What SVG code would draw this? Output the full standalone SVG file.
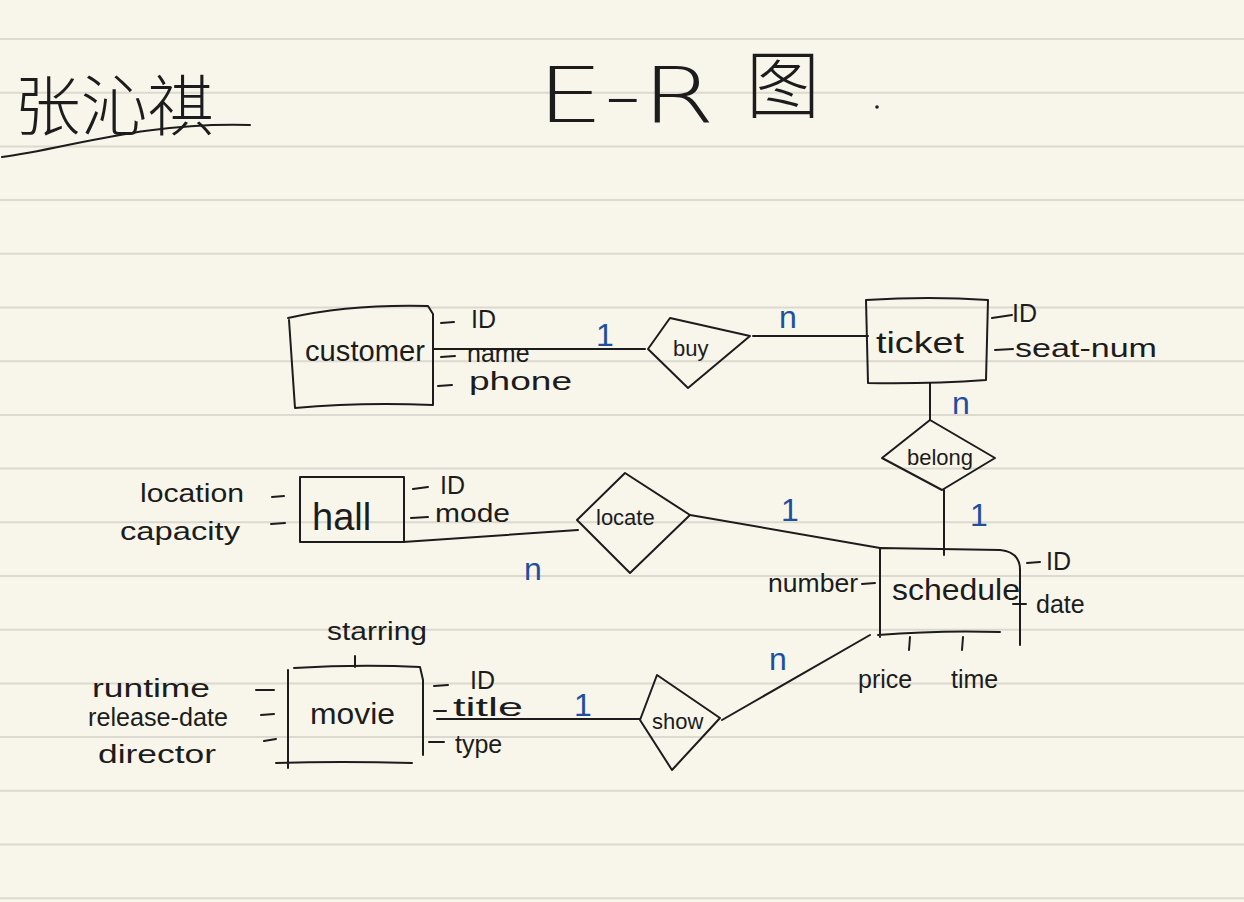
<svg xmlns="http://www.w3.org/2000/svg" width="1244" height="902" viewBox="0 0 1244 902">
<style>
.ln{stroke:#1c1c1c;stroke-width:2;fill:none;stroke-linecap:round;stroke-linejoin:round}
.rule{stroke:#dcdad0;stroke-width:2}
.t{font-family:"Liberation Sans","DejaVu Sans",sans-serif;fill:#1c1c1c}
.ent{font-size:29px}
.att{font-size:25px}
.rel{font-size:22px}
.card{font-family:"Liberation Sans",sans-serif;fill:#1f4f9e;font-size:32px}
</style>
<rect width="1244" height="902" fill="#f8f6eb"/>
<g id="paper-lines">
<line class="rule" x1="0" y1="39" x2="1244" y2="39"/>
<line class="rule" x1="0" y1="92.7" x2="1244" y2="92.7"/>
<line class="rule" x1="0" y1="146.4" x2="1244" y2="146.4"/>
<line class="rule" x1="0" y1="200.1" x2="1244" y2="200.1"/>
<line class="rule" x1="0" y1="253.8" x2="1244" y2="253.8"/>
<line class="rule" x1="0" y1="307.5" x2="1244" y2="307.5"/>
<line class="rule" x1="0" y1="361.2" x2="1244" y2="361.2"/>
<line class="rule" x1="0" y1="414.9" x2="1244" y2="414.9"/>
<line class="rule" x1="0" y1="468.6" x2="1244" y2="468.6"/>
<line class="rule" x1="0" y1="522.3" x2="1244" y2="522.3"/>
<line class="rule" x1="0" y1="576" x2="1244" y2="576"/>
<line class="rule" x1="0" y1="629.7" x2="1244" y2="629.7"/>
<line class="rule" x1="0" y1="683.4" x2="1244" y2="683.4"/>
<line class="rule" x1="0" y1="737.1" x2="1244" y2="737.1"/>
<line class="rule" x1="0" y1="790.8" x2="1244" y2="790.8"/>
<line class="rule" x1="0" y1="844.5" x2="1244" y2="844.5"/>
<line class="rule" x1="0" y1="898.2" x2="1244" y2="898.2"/>
</g>

<g id="header">
<text x="14" y="130" font-size="66" fill="#1c1c1c" style="font-family:'Noto Sans CJK SC',sans-serif;font-weight:300" textLength="200" lengthAdjust="spacingAndGlyphs">张沁祺</text>
<path class="ln" d="M2,157 C70,148 140,122 250,125"/>
<text x="537" y="122" font-size="76" fill="#1c1c1c" style="font-family:'DejaVu Sans',sans-serif;font-weight:200" textLength="178" lengthAdjust="spacingAndGlyphs">E-R</text>
<text x="746" y="112" font-size="74" fill="#1c1c1c" style="font-family:'Noto Sans CJK SC',sans-serif;font-weight:300">图</text>
<circle cx="877" cy="107" r="1.8" fill="#1c1c1c"/>
</g>

<g id="connectors">
<path class="ln" d="M433,349 L645,349"/>
<path class="ln" d="M753,336 L868,336"/>
<path class="ln" d="M930,383 L930,420"/>
<path class="ln" d="M944,490 L944,555"/>
<path class="ln" d="M403,542 L578,530"/>
<path class="ln" d="M690,515 L880,548"/>
<path class="ln" d="M870,635 L722,720"/>
<path class="ln" d="M437,719 L640,719"/>
<text class="card" x="596" y="346">1</text>
<text class="card" x="779" y="328">n</text>
<text class="card" x="952" y="414">n</text>
<text class="card" x="970" y="526">1</text>
<text class="card" x="781" y="521">1</text>
<text class="card" x="524" y="580">n</text>
<text class="card" x="769" y="670">n</text>
<text class="card" x="574" y="716">1</text>
</g>

<g id="customer">
<path class="ln" d="M288,318 Q350,304 428,306 L433,314 L433,405 Q360,402 295,408 L289,320"/>
<text class="t ent" x="305" y="361" textLength="120" lengthAdjust="spacingAndGlyphs">customer</text>
<path class="ln" d="M441,323 L454,322 M441,357 L455,356 M438,386 L452,385"/>
<text class="t att" x="471" y="328">ID</text>
<text class="t att" x="467" y="362">name</text>
<text class="t att" x="469" y="390" textLength="103" lengthAdjust="spacingAndGlyphs">phone</text>
</g>

<g id="buy">
<path class="ln" d="M670,318 L750,336 L688,388 L648,349 Z"/>
<text class="t rel" x="673" y="356">buy</text>
</g>

<g id="ticket">
<path class="ln" d="M866,300 Q930,296 988,300 L986,380 Q930,384 868,383 Z"/>
<text class="t ent" x="876" y="353" textLength="88" lengthAdjust="spacingAndGlyphs">ticket</text>
<path class="ln" d="M992,318 L1012,315 M995,350 L1013,349"/>
<text class="t att" x="1012" y="322" font-size="22">ID</text>
<text class="t att" x="1015" y="357" textLength="142" lengthAdjust="spacingAndGlyphs">seat-num</text>
</g>

<g id="belong">
<path class="ln" d="M930,420 L995,458 L942,490 L882,458 Z"/>
<text class="t rel" x="907" y="465">belong</text>
</g>

<g id="hall">
<rect class="ln" x="300" y="477" width="104" height="65"/>
<text class="t" x="312" y="530" font-size="38">hall</text>
<path class="ln" d="M272,497 L284,496 M271,524 L285,523 M413,489 L428,487 M411,518 L428,517"/>
<text class="t att" x="140" y="502" textLength="104" lengthAdjust="spacingAndGlyphs">location</text>
<text class="t att" x="120" y="540" textLength="120" lengthAdjust="spacingAndGlyphs">capacity</text>
<text class="t att" x="440" y="494">ID</text>
<text class="t att" x="435" y="522" textLength="75" lengthAdjust="spacingAndGlyphs">mode</text>
</g>

<g id="locate">
<path class="ln" d="M625,473 L690,515 L630,573 L577,520 Z"/>
<text class="t rel" x="596" y="525">locate</text>
</g>

<g id="schedule">
<path class="ln" d="M880,548 L1000,550 Q1020,552 1020,570 L1020,645 M880,548 L880,637 M878,635 Q940,630 1000,632"/>
<text class="t ent" x="892" y="600" textLength="128" lengthAdjust="spacingAndGlyphs">schedule</text>
<path class="ln" d="M862,584 L875,583 M1027,563 L1040,562 M1013,604 L1026,604 M910,637 L909,650 M963,637 L962,650"/>
<text class="t att" x="768" y="592" font-size="23" textLength="90" lengthAdjust="spacingAndGlyphs">number</text>
<text class="t att" x="1046" y="570">ID</text>
<text class="t att" x="1036" y="613" font-size="27">date</text>
<text class="t att" x="858" y="688">price</text>
<text class="t att" x="951" y="688">time</text>
</g>

<g id="movie">
<path class="ln" d="M294,668 Q360,664 420,667 L423,680 L423,755 M288,670 L288,768 M276,763 Q340,761 412,763"/>
<text class="t ent" x="310" y="724" textLength="85" lengthAdjust="spacingAndGlyphs">movie</text>
<path class="ln" d="M355,667 L355,656 M256,690 L274,690 M261,715 L274,714 M264,741 L276,739 M434,686 L448,685 M434,711 L446,711 M429,742 L444,742"/>
<text class="t att" x="327" y="640" font-size="22" textLength="100" lengthAdjust="spacingAndGlyphs">starring</text>
<text class="t att" x="92" y="697" textLength="118" lengthAdjust="spacingAndGlyphs">runtime</text>
<text class="t att" x="88" y="726" font-size="22" textLength="140" lengthAdjust="spacingAndGlyphs">release-date</text>
<text class="t att" x="98" y="763" textLength="118" lengthAdjust="spacingAndGlyphs">director</text>
<text class="t att" x="470" y="689">ID</text>
<text class="t att" x="453" y="716" textLength="70" lengthAdjust="spacingAndGlyphs">title</text>
<text class="t att" x="455" y="753">type</text>
</g>

<g id="show">
<path class="ln" d="M657,675 L720,718 L672,770 L640,720 Z"/>
<text class="t rel" x="652" y="729" font-size="20">show</text>
</g>
</svg>
